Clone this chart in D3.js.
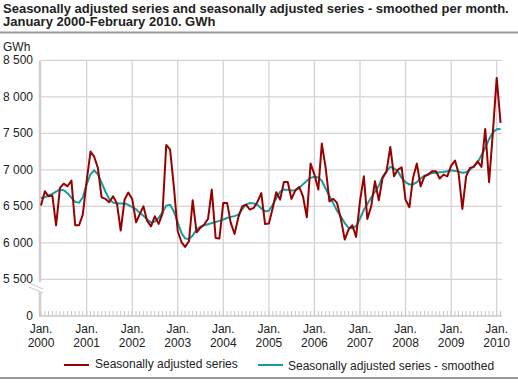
<!DOCTYPE html>
<html><head><meta charset="utf-8">
<script src="https://cdn.jsdelivr.net/npm/d3@7"></script>
<style>
body{margin:0;background:#fff;}
svg{font-family:"Liberation Sans",Arial,sans-serif;}
</style></head>
<body><svg id="c" width="518" height="383"></svg>
<script>
const titleLines = ["Seasonally adjusted series and seasonally adjusted series - smoothed per month.", "January 2000-February 2010. GWh"];
const unitLabel = "GWh";
const yTicks = [0, 5500, 6000, 6500, 7000, 7500, 8000, 8500];
const xTickYears = [2000,2001,2002,2003,2004,2005,2006,2007,2008,2009,2010];
const seriesNames = ["Seasonally adjusted series", "Seasonally adjusted series - smoothed"];
const adjusted = [
6510,6705,6637,6647,6240,6752,6810,6774,6852,6240,6240,6386,
6850,7250,7185,7026,6623,6601,6555,6637,6537,6167,6592,6688,
6601,6281,6386,6500,6300,6226,6363,6259,6400,7340,7277,6770,
6158,6007,5944,6021,6582,6144,6204,6250,6327,6729,6067,6058,
6546,6546,6273,6122,6349,6500,6523,6455,6478,6560,6680,6259,
6263,6480,6692,6592,6834,6834,6601,6719,6766,6637,6349,7085,
6934,6729,7359,7026,6568,6601,6546,6327,6044,6181,6240,6081,
6570,6911,6327,6500,6843,6582,6889,6971,7313,6911,7003,7034,
6592,6486,6889,7085,6774,6911,6934,6980,6980,6880,6934,6911,
7057,7126,6957,6464,6911,7026,7040,7116,7040,7560,6829,7505,
8259,7642];
const smoothed = [
6615,6625,6650,6670,6700,6729,6720,6680,6615,6560,6550,6620,
6800,6940,6990,6940,6820,6700,6600,6550,6537,6540,6537,6520,
6490,6460,6410,6370,6320,6280,6290,6340,6420,6510,6520,6430,
6280,6130,6060,6050,6100,6180,6220,6240,6255,6270,6285,6300,
6320,6340,6355,6365,6385,6460,6520,6546,6540,6520,6470,6430,
6440,6520,6610,6700,6730,6725,6715,6720,6750,6800,6850,6890,
6905,6895,6850,6740,6640,6540,6440,6360,6270,6205,6200,6230,
6330,6450,6530,6620,6700,6780,6900,6980,7040,7020,6980,6890,
6830,6800,6800,6830,6880,6920,6940,6955,6960,6965,6970,6980,
6994,6985,6975,6960,6965,7000,7050,7100,7200,7300,7420,7510,
7555,7560];

const start = new Date(2000,0,1);
const months = adjusted.map((_,i)=>d3.timeMonth.offset(start,i));
const svg = d3.select("#c");
const x = d3.scaleTime().domain([new Date(2000,0,1), new Date(2010,0,1)]).range([41, 496.7]);
const y = d3.scaleLinear().domain([0,5500,8500]).range([316,279.3,60.3]);
const xRight = 502;
const grid = "#d4d4d4";

// title
svg.append("text").attr("x",3).attr("y",12.5).attr("font-size",13).attr("font-weight","bold").attr("fill","#222").text(titleLines[0]);
svg.append("text").attr("x",3).attr("y",26).attr("font-size",13).attr("font-weight","bold").attr("fill","#222").text(titleLines[1]);
svg.append("line").attr("x1",0).attr("x2",518).attr("y1",32.5).attr("y2",32.5).attr("stroke","#999").attr("stroke-width",2);
svg.append("line").attr("x1",0).attr("x2",518).attr("y1",378).attr("y2",378).attr("stroke","#999").attr("stroke-width",2);

// horizontal gridlines
yTicks.filter(v=>v>=5500).forEach(v=>{
  svg.append("line").attr("x1",41).attr("x2",xRight).attr("y1",y(v)).attr("y2",y(v)).attr("stroke",grid).attr("stroke-width",1.3);
});
// vertical gridlines
xTickYears.slice(1).forEach(yr=>{
  const xx = x(new Date(yr,0,1));
  svg.append("line").attr("x1",xx).attr("x2",xx).attr("y1",y(8500)).attr("y2",316).attr("stroke",grid).attr("stroke-width",1.3);
});
// y axis with break
svg.append("line").attr("x1",40).attr("x2",40).attr("y1",y(8500)).attr("y2",282).attr("stroke","#cfcfcf").attr("stroke-width",2.5);
svg.append("line").attr("x1",40).attr("x2",40).attr("y1",292).attr("y2",316).attr("stroke","#cfcfcf").attr("stroke-width",2.5);
svg.append("line").attr("x1",29).attr("x2",43).attr("y1",283).attr("y2",289).attr("stroke","#cfcfcf").attr("stroke-width",1.2);
svg.append("line").attr("x1",29).attr("x2",43).attr("y1",287).attr("y2",293).attr("stroke","#cfcfcf").attr("stroke-width",1.2);
// x axis baseline and monthly ticks
svg.append("line").attr("x1",39).attr("x2",xRight).attr("y1",316).attr("y2",316).attr("stroke","#c8c8c8").attr("stroke-width",1.5);
d3.range(0,122).forEach(i=>{
  const xx = x(d3.timeMonth.offset(start,i));
  svg.append("line").attr("x1",xx).attr("x2",xx).attr("y1",316).attr("y2",311).attr("stroke","#c8c8c8").attr("stroke-width",1);
});

// y labels
svg.append("text").attr("x",3).attr("y",51).attr("font-size",12).attr("fill","#222").text(unitLabel);
yTicks.forEach(v=>{
  svg.append("text").attr("x",33).attr("y",y(v)+4).attr("text-anchor","end").attr("font-size",12).attr("fill","#222")
    .text(v===0?"0":d3.format(",")(v).replace(",", " "));
});
// x labels
xTickYears.forEach(yr=>{
  const xx = x(new Date(yr,0,1));
  svg.append("text").attr("x",xx).attr("y",333).attr("text-anchor","middle").attr("font-size",12).attr("fill","#222").text("Jan.");
  svg.append("text").attr("x",xx).attr("y",347).attr("text-anchor","middle").attr("font-size",12).attr("fill","#222").text(yr);
});

// lines
const line = d3.line().x((d,i)=>x(months[i])).y(d=>y(d));
svg.append("path").datum(smoothed).attr("d",line).attr("fill","none").attr("stroke","#119e9e").attr("stroke-width",2);
svg.append("path").datum(adjusted).attr("d",line).attr("fill","none").attr("stroke","#990000").attr("stroke-width",2).attr("stroke-linejoin","round");

// legend
const lg = [{c:"#990000",x1:64,tx:95,ty:368,name:seriesNames[0]},{c:"#119e9e",x1:258,tx:288,ty:370,name:seriesNames[1]}];
lg.forEach(l=>{
  svg.append("line").attr("x1",l.x1).attr("x2",l.x1+25).attr("y1",365).attr("y2",365).attr("stroke",l.c).attr("stroke-width",2);
  svg.append("text").attr("x",l.tx).attr("y",l.ty).attr("font-size",12).attr("fill","#222").text(l.name);
});
</script></body></html>
